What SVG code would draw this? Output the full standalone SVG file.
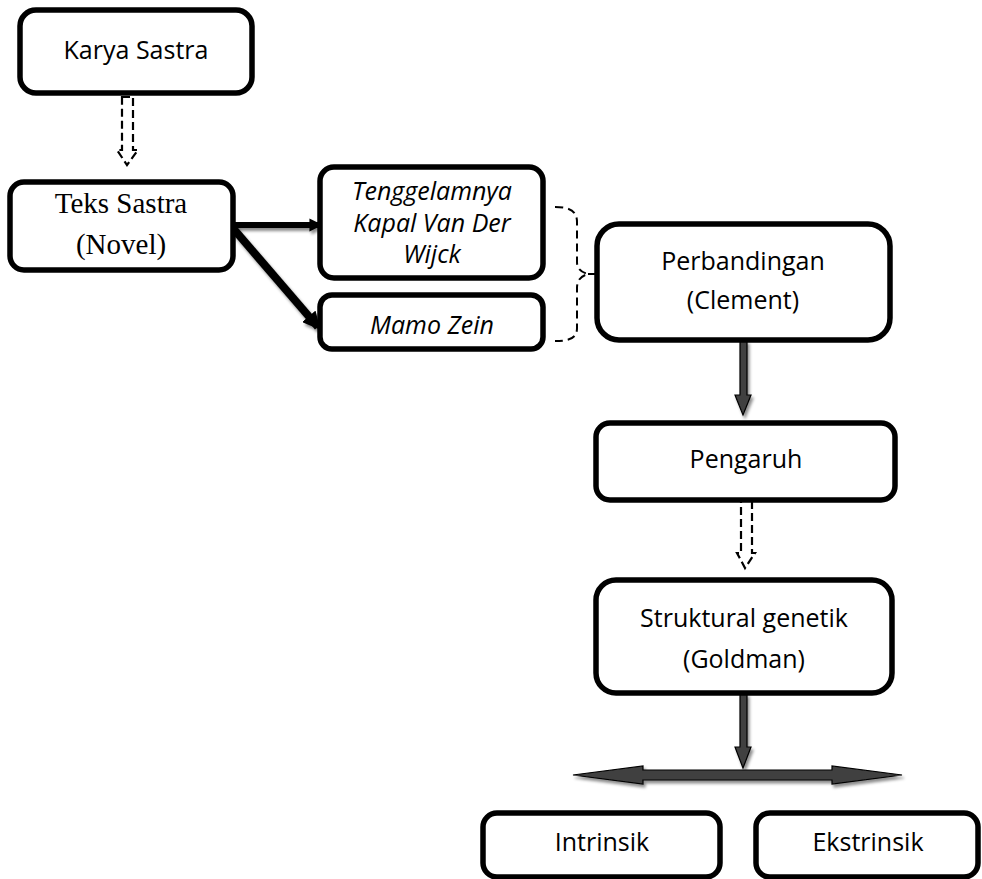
<svg xmlns="http://www.w3.org/2000/svg" width="982" height="879" viewBox="0 0 982 879">
<defs>
<style>
.box{fill:#fff;stroke:#000;stroke-width:5.5}
.sans{font-family:"Open Sans","Liberation Sans",sans-serif;font-size:25px;fill:#000;text-anchor:middle}
.ital{font-style:italic}
.serif{font-family:"Liberation Serif","Times New Roman",serif;font-size:29px;fill:#000;text-anchor:middle}
.dash{fill:#fff;stroke:#000;stroke-width:2.2;stroke-dasharray:8,4}
.brace{fill:none;stroke:#000;stroke-width:2;stroke-dasharray:8,5}
.solid{fill:#404040;stroke:#000;stroke-width:1.2}
.thick{stroke:#000;fill:none}
</style>
<filter id="sh" filterUnits="userSpaceOnUse" x="0" y="0" width="982" height="879">
<feDropShadow dx="2" dy="3" stdDeviation="1.5" flood-color="#000" flood-opacity="0.45"/>
</filter>
<marker id="ah" viewBox="0 0 10 10" refX="8" refY="5" markerWidth="2.2" markerHeight="2.2" orient="auto">
<path d="M0,0 L10,5 L0,10 z" fill="#000"/>
</marker>
</defs>

<g id="connectors">
<polygon class="dash" points="122,97 133,97 133,150 138,150 127,165 117,150 122,150"/>
<line class="thick" x1="231" y1="225" x2="320" y2="225" stroke-width="6" marker-end="url(#ah)" filter="url(#sh)"/>
<line class="thick" x1="232" y1="227" x2="318" y2="327" stroke-width="8" marker-end="url(#ah)" filter="url(#sh)"/>
<path class="brace" d="M555,207 C570,207 577,211 577,222 L577,262 C577,269 581,272 588,274 C581,276 577,280 577,288 L577,328 C577,338 570,341 555,341"/>
<line class="brace" x1="588" y1="274" x2="597" y2="274"/>
<polygon class="solid" filter="url(#sh)" points="740,341 747,341 747,395 751,395 743,415 735,395 740,395"/>
<polygon class="dash" points="741,500 752,500 752,553 755,553 745,568 737,553 741,553"/>
<polygon class="solid" filter="url(#sh)" points="740,694 747,694 747,747 751,747 743,768 735,747 740,747"/>
<polygon class="solid" filter="url(#sh)" points="573,775 643,766 643,770 832,770 832,766 902,775 832,784 832,780 643,780 643,784"/>
</g>

<g id="karya-sastra">
<rect class="box" x="20" y="10" width="232" height="83" rx="16"/>
<text class="sans" x="136" y="59">Karya Sastra</text>
</g>

<g id="teks-sastra">
<rect class="box" x="10" y="182" width="223" height="88" rx="14"/>
<text class="serif" x="121" y="213">Teks Sastra</text>
<text class="serif" x="121" y="254">(Novel)</text>
</g>

<g id="tenggelamnya">
<rect class="box" x="320" y="167" width="223" height="111" rx="14"/>
<text class="sans ital" x="432" y="200">Tenggelamnya</text>
<text class="sans ital" x="432" y="232">Kapal Van Der</text>
<text class="sans ital" x="432" y="263">Wijck</text>
</g>

<g id="mamo-zein">
<rect class="box" x="320" y="295" width="223" height="54" rx="12"/>
<text class="sans ital" x="432" y="334">Mamo Zein</text>
</g>

<g id="perbandingan">
<rect class="box" x="597" y="224" width="293" height="116" rx="22"/>
<text class="sans" x="743" y="270">Perbandingan</text>
<text class="sans" x="743" y="309">(Clement)</text>
</g>

<g id="pengaruh">
<rect class="box" x="596" y="423" width="299" height="77" rx="14"/>
<text class="sans" x="746" y="468">Pengaruh</text>
</g>

<g id="struktural">
<rect class="box" x="596" y="580" width="296" height="113" rx="20"/>
<text class="sans" x="744" y="627">Struktural genetik</text>
<text class="sans" x="744" y="668">(Goldman)</text>
</g>

<g id="intrinsik">
<rect class="box" x="483" y="813" width="237" height="64" rx="14"/>
<text class="sans" x="602" y="851">Intrinsik</text>
</g>

<g id="ekstrinsik">
<rect class="box" x="756" y="813" width="222" height="64" rx="14"/>
<text class="sans" x="868" y="851">Ekstrinsik</text>
</g>
</svg>
